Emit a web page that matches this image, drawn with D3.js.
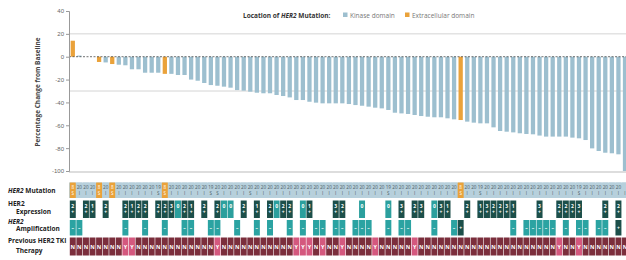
<!DOCTYPE html>
<html>
<head>
<meta charset="utf-8">
<script src="https://cdn.jsdelivr.net/npm/d3@7"></script>
<style>
  body { margin: 0; background: #fff; }
  svg { display: block; font-family: "Open Sans", "DejaVu Sans", sans-serif; }
</style>
</head>
<body>
<svg id="main-chart"></svg>
<script>
const seq = s => s.replace(/ /g, '').split('');

// best percentage change from baseline, one value per patient (sorted waterfall)
const changePct = [
  14, 1, 0, 0, -4.6, -5, -6.4, -7, -7.5, -11,
  -11, -14, -14, -14, -15, -15, -16, -16, -20, -21,
  -23, -24.8, -25.4, -26.2, -27.1, -29.2, -29.7, -30.6, -31.5, -32,
  -32, -33.5, -34.4, -35.6, -37.9, -37.9, -39.4, -40.2, -40.8, -40.8,
  -40.8, -40.8, -41.4, -42.3, -42.9, -43.7, -44.6, -45.2, -46.6, -49,
  -49.6, -50.1, -51, -51.9, -52.5, -53, -53, -53.9, -54.8, -55.4,
  -56.8, -57.7, -58.3, -58.3, -61.8, -65, -65.6, -66.2, -67, -67.6,
  -67.9, -69, -69.9, -69.9, -69.9, -69.9, -70.8, -71.4, -72.9, -80.2,
  -82.5, -84, -84.5, -85.4, -100
];
const patients = changePct.map((d, i) => i);

// K = kinase domain, E = extracellular domain
const mutationDomain = seq('EKKKEKEKKK KKKKEKKKKK KKKKKKKKKK KKKKKKKKKK KKKKKKKKKK KKKKKKKKKE KKKKKKKKKK KKKKKKKKKK KKKKK');
const mutationExon = [
  '8','20','20','20','8','20','8','20','20','20',
  '20','20','20','19','8','20','20','20','20','20',
  '20','19','20','20','20','20','20','20','20','20',
  '20','20','20','20','20','20','20','20','20','20',
  '20','20','20','20','20','20','20','20','19','20',
  '20','20','20','20','20','20','20','20','20','8',
  '20','20','19','20','20','20','20','20','20','20',
  '20','20','20','20','20','20','20','19','20','20',
  '20','20','20','20','20'
];
// I = insertion, S = substitution
const mutationType = seq('SIIISISIII IIISSIIIII ISSIIIISII IIIIIIIIII IIIIIIIISI IIIIIIIIIS IISIIIIIII IIIIIIISII IIIII');
// HER2 expression by IHC, '.' = not available
const expression = seq('2.21.2..21 22.223021. 2.200.2.1. 2022.01... 32..0...0. 3.23.031.. 2.132231.. .3..2223.. .2.2.');
// HER2 amplification, '.' = not available
const amplification = seq('--......-. .-..-..--. .--..-..-. -..-.-.--. --.---..-. --...-..-+ .......-.- ----.-.--. --.+.');
const priorTki = seq('NNNNNNNNYY NNNNNNNNNN NNYNNNNNNN NNNNYYYNYN NYNNNNYNNN NNYNNNNNNN NNNNNNNNNN NNNNYNNYNN NNNNN');

const yTicks = [40, 20, 0, -20, -40, -60, -80, -100];
const refLines = [20, -30];

const colors = { K: '#9dbfcf', E: '#eaa23a' };

const width = 626, height = 260;
const svg = d3.select('#main-chart').attr('width', width).attr('height', height);

const x = d3.scaleBand()
  .domain(patients)
  .range([69.5, 628.3])
  .paddingInner(0.35)
  .paddingOuter(0.175);

const y = d3.scaleLinear().domain([-100, 40]).range([171, 11]);

// reference lines
svg.selectAll('.ref')
  .data(refLines)
  .enter().append('line')
  .attr('x1', 69).attr('x2', width)
  .attr('y1', d => y(d)).attr('y2', d => y(d))
  .attr('stroke', '#d4d4d4').attr('stroke-width', 1);

// baseline at bottom
svg.append('line')
  .attr('x1', 69).attr('x2', width)
  .attr('y1', 172).attr('y2', 172)
  .attr('stroke', '#bbb').attr('stroke-width', 1.2);

// bars
svg.selectAll('.bar')
  .data(patients)
  .enter().append('rect')
  .attr('x', i => x(i))
  .attr('width', x.bandwidth())
  .attr('y', i => y(Math.max(0, changePct[i])))
  .attr('height', i => Math.abs(y(changePct[i]) - y(0)))
  .attr('fill', i => colors[mutationDomain[i]]);

// zero line
svg.append('line')
  .attr('x1', 69).attr('x2', width)
  .attr('y1', y(0)).attr('y2', y(0))
  .attr('stroke', '#333').attr('stroke-width', 0.7)
  .attr('stroke-dasharray', '2,1.5');

// y axis
const yAxis = svg.append('g')
  .attr('transform', 'translate(69,0)')
  .call(d3.axisLeft(y).tickValues(yTicks).tickSize(3).tickPadding(2).tickFormat(d => String(d)));
yAxis.select('.domain').attr('stroke', '#999');
yAxis.selectAll('.tick line').attr('stroke', '#999');
yAxis.selectAll('.tick text').attr('fill', '#666').style('font-size', '6px');

svg.append('text')
  .attr('transform', 'translate(40,92) rotate(-90)')
  .attr('text-anchor', 'middle')
  .attr('fill', '#444')
  .style('font-size', '6.5px')
  .style('font-weight', 'bold')
  .text('Percentage Change from Baseline');

// legend
const legTitle = svg.append('text')
  .attr('x', 243).attr('y', 17.5)
  .attr('fill', '#333')
  .style('font-size', '6.5px')
  .style('font-weight', 'bold');
legTitle.append('tspan').text('Location of ');
legTitle.append('tspan').style('font-style', 'italic').text('HER2');
legTitle.append('tspan').text(' Mutation:');

const legendItems = [
  { key: 'K', label: 'Kinase domain', x: 343 },
  { key: 'E', label: 'Extracellular domain', x: 405 }
];
svg.selectAll('.leg-box')
  .data(legendItems)
  .enter().append('rect')
  .attr('x', d => d.x).attr('y', 12.5)
  .attr('width', 4.5).attr('height', 4.5)
  .attr('fill', d => colors[d.key]);
svg.selectAll('.leg-text')
  .data(legendItems)
  .enter().append('text')
  .attr('x', d => d.x + 7).attr('y', 17.5)
  .attr('fill', '#777')
  .style('font-size', '6.5px')
  .text(d => d.label);

// ---- annotation table ----
const rows = [
  { top: 182.5, h: 15.5 },
  { top: 200.5, h: 17.5 },
  { top: 220, h: 15.5 },
  { top: 237.5, h: 18 }
];
const cellW = x.step() - 0.6;
const cellX = i => x(i) + x.bandwidth() / 2 - cellW / 2;
const cx = i => x(i) + x.bandwidth() / 2;

// row 1: mutation
const r1 = svg.append('g');
r1.append('rect')
  .attr('x', x(0) - x.step() * 0.175 - 0.5).attr('y', rows[0].top)
  .attr('width', width).attr('height', rows[0].h)
  .attr('fill', '#b7d0dc');
r1.selectAll('rect.cell')
  .data(patients)
  .enter().append('rect')
  .attr('class', 'cell')
  .attr('x', cellX).attr('y', rows[0].top)
  .attr('width', cellW).attr('height', rows[0].h)
  .attr('fill', i => mutationDomain[i] === 'E' ? colors.E : '#b7d0dc');
r1.selectAll('text.exon')
  .data(patients.filter(i => cx(i) < width - 3))
  .enter().append('text')
  .attr('x', cx).attr('y', rows[0].top + 6)
  .attr('text-anchor', 'middle')
  .attr('fill', i => mutationDomain[i] === 'E' ? '#fff' : '#4a5a62')
  .style('font-size', '4.6px')
  .text(i => mutationExon[i]);
r1.selectAll('text.type')
  .data(patients)
  .enter().append('text')
  .attr('x', cx).attr('y', rows[0].top + 12)
  .attr('text-anchor', 'middle')
  .attr('fill', i => mutationDomain[i] === 'E' ? '#fff' : '#4a5a62')
  .style('font-size', '4.6px')
  .text(i => mutationType[i]);

// row 2: expression
const expIdx = patients.filter(i => expression[i] !== '.');
const r2 = svg.append('g');
r2.selectAll('rect')
  .data(expIdx)
  .enter().append('rect')
  .attr('x', cellX).attr('y', rows[1].top)
  .attr('width', cellW).attr('height', rows[1].h)
  .attr('fill', i => expression[i] === '0' ? '#2b9f9d' : '#1c4f4a');
r2.selectAll('text.num')
  .data(expIdx)
  .enter().append('text')
  .attr('x', cx).attr('y', rows[1].top + 7)
  .attr('text-anchor', 'middle')
  .attr('fill', '#fff')
  .style('font-size', '5px')
  .style('font-weight', 'bold')
  .text(i => expression[i]);
r2.selectAll('text.plus')
  .data(expIdx.filter(i => expression[i] !== '0'))
  .enter().append('text')
  .attr('x', cx).attr('y', rows[1].top + 13)
  .attr('text-anchor', 'middle')
  .attr('fill', '#fff')
  .style('font-size', '5px')
  .style('font-weight', 'bold')
  .text('+');

// row 3: amplification
const ampIdx = patients.filter(i => amplification[i] !== '.');
const r3 = svg.append('g');
r3.selectAll('rect')
  .data(ampIdx)
  .enter().append('rect')
  .attr('x', cellX).attr('y', rows[2].top)
  .attr('width', cellW).attr('height', rows[2].h)
  .attr('fill', i => amplification[i] === '+' ? '#1c4f4a' : '#2ba3a2');
r3.selectAll('text')
  .data(ampIdx)
  .enter().append('text')
  .attr('x', cx).attr('y', rows[2].top + 9.5)
  .attr('text-anchor', 'middle')
  .attr('fill', '#fff')
  .style('font-size', '5px')
  .style('font-weight', 'bold')
  .text(i => amplification[i] === '+' ? '+' : '–');

// row 4: previous TKI
const r4 = svg.append('g');
r4.selectAll('rect')
  .data(patients)
  .enter().append('rect')
  .attr('x', cellX).attr('y', rows[3].top)
  .attr('width', cellW).attr('height', rows[3].h)
  .attr('fill', i => priorTki[i] === 'Y' ? '#d4587e' : '#7b2e3c');
r4.selectAll('text')
  .data(patients)
  .enter().append('text')
  .attr('x', cx).attr('y', rows[3].top + 11)
  .attr('text-anchor', 'middle')
  .attr('fill', '#fff')
  .style('font-size', '5.5px')
  .style('font-weight', 'bold')
  .text(i => priorTki[i]);

// row labels
const labels = [
  { x: 8, y: 193, size: 6.5, parts: [['HER2', true], [' Mutation', false]] },
  { x: 8, y: 206, size: 6.5, parts: [['HER2', false]] },
  { x: 16, y: 214.3, size: 6.5, parts: [['Expression', false]] },
  { x: 8, y: 223.6, size: 6.5, parts: [['HER2', true]] },
  { x: 16, y: 231.2, size: 6.5, parts: [['Amplification', false]] },
  { x: 8, y: 242.5, size: 6.5, parts: [['Previous HER2 TKI', false]] },
  { x: 16, y: 252.5, size: 6.5, parts: [['Therapy', false]] }
];
labels.forEach(l => {
  const t = svg.append('text')
    .attr('x', l.x).attr('y', l.y)
    .attr('fill', '#222')
    .style('font-size', l.size + 'px')
    .style('font-weight', 'bold');
  l.parts.forEach(p => t.append('tspan').style('font-style', p[1] ? 'italic' : 'normal').text(p[0]));
});
</script>
</body>
</html>
